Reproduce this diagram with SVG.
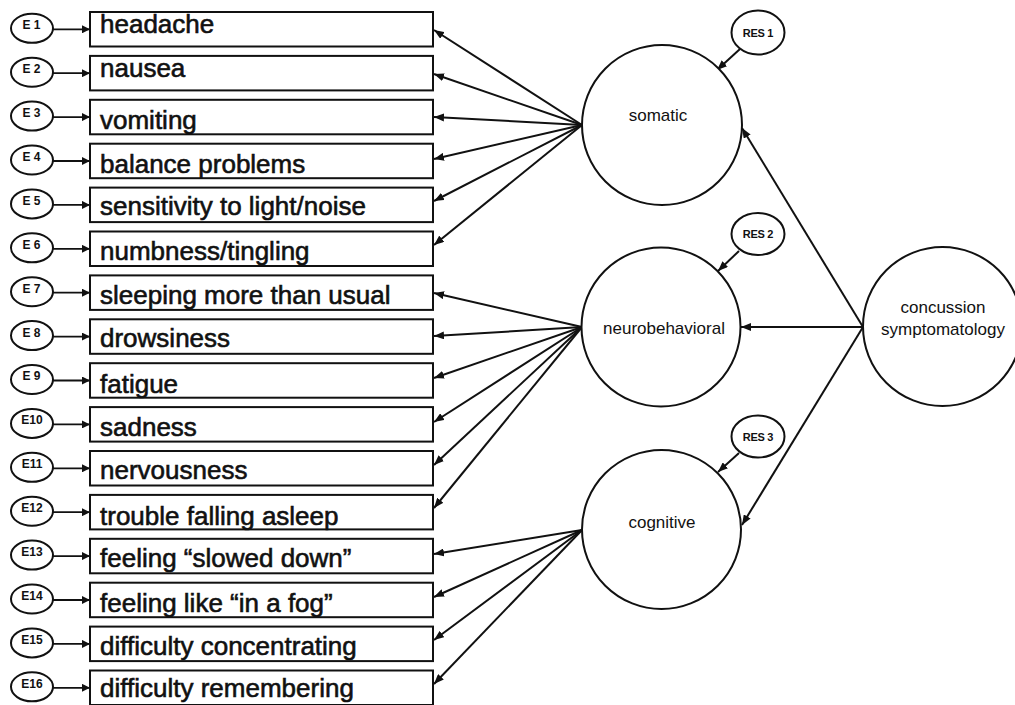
<svg xmlns="http://www.w3.org/2000/svg" width="1015" height="705" viewBox="0 0 1015 705">
<defs>
<style>
.box{fill:#fff;stroke:#111;stroke-width:2}
.err{fill:#fff;stroke:#111;stroke-width:2}
.lat{fill:#fff;stroke:#111;stroke-width:2}
.lbl{font-family:"Liberation Sans",Arial,sans-serif;font-size:26px;fill:#111;stroke:#111;stroke-width:0.6}
.etx{font-family:"Liberation Sans",Arial,sans-serif;font-size:12px;font-weight:bold;fill:#111;text-anchor:middle}
.rtx{font-family:"Liberation Sans",Arial,sans-serif;font-size:11px;font-weight:bold;fill:#111;text-anchor:middle;letter-spacing:-0.3px}
.ltx{font-family:"Liberation Sans",Arial,sans-serif;font-size:17px;fill:#111;text-anchor:middle}
.ln{stroke:#111;stroke-width:2;fill:none;marker-end:url(#ah)}
.sl{stroke:#111;stroke-width:1.8;fill:none;marker-end:url(#sh)}
</style>
<marker id="ah" viewBox="0 0 10 8" refX="10" refY="4" markerWidth="10" markerHeight="8" markerUnits="userSpaceOnUse" orient="auto">
<path d="M0,0 L10,4 L0,8 z" fill="#111"/>
</marker>
<marker id="sh" viewBox="0 0 8 8" refX="8" refY="4" markerWidth="8" markerHeight="8" markerUnits="userSpaceOnUse" orient="auto">
<path d="M0,0 L8,4 L0,8 z" fill="#111"/>
</marker>
</defs>
<rect width="1015" height="705" fill="#fff"/>

<g id="connectors">
<line class="sl" x1="53" y1="29.3" x2="90" y2="29.3"/>
<line class="sl" x1="53" y1="73.2" x2="90" y2="73.2"/>
<line class="sl" x1="53" y1="117.1" x2="90" y2="117.1"/>
<line class="sl" x1="53" y1="161" x2="90" y2="161"/>
<line class="sl" x1="53" y1="204.9" x2="90" y2="204.9"/>
<line class="sl" x1="53" y1="248.8" x2="90" y2="248.8"/>
<line class="sl" x1="53" y1="292.7" x2="90" y2="292.7"/>
<line class="sl" x1="53" y1="336.6" x2="90" y2="336.6"/>
<line class="sl" x1="53" y1="380.5" x2="90" y2="380.5"/>
<line class="sl" x1="53" y1="424.4" x2="90" y2="424.4"/>
<line class="sl" x1="53" y1="468.3" x2="90" y2="468.3"/>
<line class="sl" x1="53" y1="512.2" x2="90" y2="512.2"/>
<line class="sl" x1="53" y1="556.1" x2="90" y2="556.1"/>
<line class="sl" x1="53" y1="600" x2="90" y2="600"/>
<line class="sl" x1="53" y1="643.9" x2="90" y2="643.9"/>
<line class="sl" x1="53" y1="687.8" x2="90" y2="687.8"/>
<line class="ln" x1="582" y1="125" x2="434" y2="30"/>
<line class="ln" x1="582" y1="125" x2="434" y2="74"/>
<line class="ln" x1="582" y1="125" x2="434" y2="117"/>
<line class="ln" x1="582" y1="125" x2="434" y2="159"/>
<line class="ln" x1="582" y1="125" x2="434" y2="201"/>
<line class="ln" x1="582" y1="125" x2="434" y2="245"/>
<line class="ln" x1="582" y1="327" x2="434" y2="293"/>
<line class="ln" x1="582" y1="327" x2="434" y2="336"/>
<line class="ln" x1="582" y1="327" x2="434" y2="378"/>
<line class="ln" x1="582" y1="327" x2="434" y2="422"/>
<line class="ln" x1="582" y1="327" x2="434" y2="465"/>
<line class="ln" x1="582" y1="327" x2="434" y2="508"/>
<line class="ln" x1="582" y1="530" x2="434" y2="554"/>
<line class="ln" x1="582" y1="530" x2="434" y2="597"/>
<line class="ln" x1="582" y1="530" x2="434" y2="640"/>
<line class="ln" x1="582" y1="530" x2="434" y2="684"/>
<line class="ln" x1="740" y1="49" x2="717" y2="70"/>
<line class="ln" x1="739" y1="251" x2="718" y2="271"/>
<line class="ln" x1="739" y1="453" x2="718" y2="472"/>
<line class="ln" x1="863" y1="327" x2="742" y2="128"/>
<line class="ln" x1="863" y1="327" x2="741" y2="327"/>
<line class="ln" x1="863" y1="327" x2="742" y2="525"/>
</g>

<g id="E1"><ellipse class="err" cx="32" cy="28.3" rx="21" ry="14.5"/><text class="etx" x="31.5" y="29">E 1</text></g>
<g id="E2"><ellipse class="err" cx="32" cy="72.2" rx="21" ry="14.5"/><text class="etx" x="31.5" y="73">E 2</text></g>
<g id="E3"><ellipse class="err" cx="32" cy="116.1" rx="21" ry="14.5"/><text class="etx" x="31.5" y="117">E 3</text></g>
<g id="E4"><ellipse class="err" cx="32" cy="160" rx="21" ry="14.5"/><text class="etx" x="31.5" y="161">E 4</text></g>
<g id="E5"><ellipse class="err" cx="32" cy="203.9" rx="21" ry="14.5"/><text class="etx" x="31.5" y="204.5">E 5</text></g>
<g id="E6"><ellipse class="err" cx="32" cy="247.8" rx="21" ry="14.5"/><text class="etx" x="31.5" y="248.5">E 6</text></g>
<g id="E7"><ellipse class="err" cx="32" cy="291.7" rx="21" ry="14.5"/><text class="etx" x="31.5" y="292.5">E 7</text></g>
<g id="E8"><ellipse class="err" cx="32" cy="335.6" rx="21" ry="14.5"/><text class="etx" x="31.5" y="336.5">E 8</text></g>
<g id="E9"><ellipse class="err" cx="32" cy="379.5" rx="21" ry="14.5"/><text class="etx" x="31.5" y="380">E 9</text></g>
<g id="E10"><ellipse class="err" cx="32" cy="423.4" rx="21" ry="14.5"/><text class="etx" x="32" y="424">E10</text></g>
<g id="E11"><ellipse class="err" cx="32" cy="467.3" rx="21" ry="14.5"/><text class="etx" x="32" y="468">E11</text></g>
<g id="E12"><ellipse class="err" cx="32" cy="511.2" rx="21" ry="14.5"/><text class="etx" x="32" y="512">E12</text></g>
<g id="E13"><ellipse class="err" cx="32" cy="555.1" rx="21" ry="14.5"/><text class="etx" x="32" y="556">E13</text></g>
<g id="E14"><ellipse class="err" cx="32" cy="599" rx="21" ry="14.5"/><text class="etx" x="32" y="600">E14</text></g>
<g id="E15"><ellipse class="err" cx="32" cy="642.9" rx="21" ry="14.5"/><text class="etx" x="32" y="643.5">E15</text></g>
<g id="E16"><ellipse class="err" cx="32" cy="686.8" rx="21" ry="14.5"/><text class="etx" x="32" y="687.5">E16</text></g>

<g id="headache"><rect class="box" x="90" y="12" width="343" height="34.5"/><text class="lbl" x="100" y="33">headache</text></g>
<g id="nausea"><rect class="box" x="90" y="55.9" width="343" height="34.5"/><text class="lbl" x="100" y="77">nausea</text></g>
<g id="vomiting"><rect class="box" x="90" y="99.8" width="343" height="34.5"/><text class="lbl" x="100" y="129">vomiting</text></g>
<g id="balance"><rect class="box" x="90" y="143.7" width="343" height="34.5"/><text class="lbl" x="100" y="173">balance problems</text></g>
<g id="sensitivity"><rect class="box" x="90" y="187.6" width="343" height="34.5"/><text class="lbl" x="100" y="215">sensitivity to light/noise</text></g>
<g id="numbness"><rect class="box" x="90" y="231.5" width="343" height="34.5"/><text class="lbl" x="100" y="260">numbness/tingling</text></g>
<g id="sleeping"><rect class="box" x="90" y="275.4" width="343" height="34.5"/><text class="lbl" x="100" y="304">sleeping more than usual</text></g>
<g id="drowsiness"><rect class="box" x="90" y="319.3" width="343" height="34.5"/><text class="lbl" x="100" y="347">drowsiness</text></g>
<g id="fatigue"><rect class="box" x="90" y="363.2" width="343" height="34.5"/><text class="lbl" x="100" y="393">fatigue</text></g>
<g id="sadness"><rect class="box" x="90" y="407.1" width="343" height="34.5"/><text class="lbl" x="100" y="436">sadness</text></g>
<g id="nervousness"><rect class="box" x="90" y="451" width="343" height="34.5"/><text class="lbl" x="100" y="479">nervousness</text></g>
<g id="trouble"><rect class="box" x="90" y="494.9" width="343" height="34.5"/><text class="lbl" x="100" y="525">trouble falling asleep</text></g>
<g id="slowed"><rect class="box" x="90" y="538.8" width="343" height="34.5"/><text class="lbl" x="100" y="567">feeling “slowed down”</text></g>
<g id="fog"><rect class="box" x="90" y="582.7" width="343" height="34.5"/><text class="lbl" x="100" y="612">feeling like “in a fog”</text></g>
<g id="concentrating"><rect class="box" x="90" y="626.6" width="343" height="34.5"/><text class="lbl" x="100" y="655">difficulty concentrating</text></g>
<g id="remembering"><rect class="box" x="90" y="670.5" width="343" height="34.5"/><text class="lbl" x="100" y="697">difficulty remembering</text></g>

<g id="somatic"><circle class="lat" cx="662" cy="125" r="80"/><text class="ltx" x="658" y="121">somatic</text></g>
<g id="neurobehavioral"><circle class="lat" cx="661" cy="327" r="79.5"/><text class="ltx" x="664" y="334">neurobehavioral</text></g>
<g id="cognitive"><circle class="lat" cx="661.5" cy="529.5" r="79.5"/><text class="ltx" x="662" y="528">cognitive</text></g>
<g id="concussion"><circle class="lat" cx="942.5" cy="326.5" r="79.5"/><text class="ltx" x="943" y="313">concussion</text><text class="ltx" x="943" y="335">symptomatology</text></g>

<g id="RES1"><ellipse class="err" cx="758" cy="32.5" rx="26.5" ry="22"/><text class="rtx" x="758" y="36.5">RES 1</text></g>
<g id="RES2"><ellipse class="err" cx="758" cy="234" rx="26.5" ry="21"/><text class="rtx" x="758" y="238">RES 2</text></g>
<g id="RES3"><ellipse class="err" cx="758" cy="436.5" rx="26.5" ry="21"/><text class="rtx" x="758" y="440.5">RES 3</text></g>
</svg>
